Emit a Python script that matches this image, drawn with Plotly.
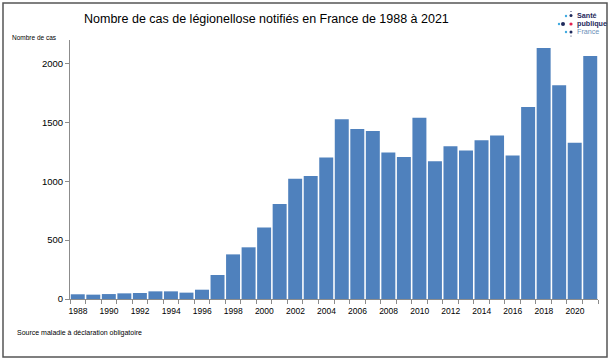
import plotly.graph_objects as go

# ---- data ----
years = list(range(1988, 2022))
cases = [40, 37, 42, 48, 51, 65, 65, 54, 79, 204, 379, 439, 608, 806,
         1021, 1044, 1202, 1527, 1443, 1428, 1244, 1206, 1540, 1170,
         1298, 1262, 1348, 1389, 1218, 1630, 2133, 1816, 1328, 2065]
x_tick_labels = [str(y) for y in range(1988, 2021, 2)]
y_tick_values = [0, 500, 1000, 1500, 2000]
title_text = "Nombre de cas de légionellose notifiés en France de 1988 à 2021"
y_title = "Nombre de cas"
source_text = "Source maladie à déclaration obligatoire"

# ---- geometry helpers (pixel -> paper) ----
W, H = 611, 362
L, R, T, B = 70, 598, 40, 299


def px(x):
    return (x - L) / (R - L)


def py(y):
    return (B - y) / (B - T)


FONT = "Arial, Liberation Sans, sans-serif"
AX = "#8c8c8c"

# boundaries between bars for tick marks; labels on every second bar
bounds = [years[0] - 0.5 + k for k in range(len(years) + 1)]
ticktext = []
for b in bounds:
    lab = str(int(b + 0.5))
    ticktext.append(lab if lab in x_tick_labels else "")

fig = go.Figure(go.Bar(
    x=years, y=cases,
    marker=dict(color="#4F81BD", line=dict(width=0)),
    hoverinfo="x+y",
))

fig.update_layout(
    width=W, height=H,
    margin=dict(l=L, r=W - R, t=T, b=H - B, pad=0),
    paper_bgcolor="white", plot_bgcolor="white",
    bargap=0.1,
    showlegend=False,
    font=dict(family=FONT, color="#000000"),
    xaxis=dict(
        range=[years[0] - 0.5, years[-1] + 0.5],
        tickmode="array", tickvals=bounds, ticktext=ticktext,
        ticklabelshift=8,
        ticks="outside", ticklen=4, tickcolor=AX, tickwidth=1,
        showline=True, linecolor=AX, linewidth=1,
        showgrid=False, zeroline=False,
        tickfont=dict(size=8.5, color="#000000"),
        fixedrange=True,
    ),
    yaxis=dict(
        range=[0, 2200],
        tickmode="array", tickvals=y_tick_values,
        ticks="outside", ticklen=4, tickcolor=AX, tickwidth=1,
        showline=True, linecolor=AX, linewidth=1,
        showgrid=False, zeroline=False,
        tickfont=dict(size=9.5, color="#000000"),
        fixedrange=True,
    ),
)

ann = []
ann.append(dict(text=title_text, x=px(266), y=py(18.5), xref="paper", yref="paper",
                xanchor="center", yanchor="middle", showarrow=False,
                font=dict(size=12.5, family=FONT, color="#000000")))
ann.append(dict(text=y_title, x=px(10), y=py(37), xref="paper", yref="paper",
                xanchor="left", yanchor="middle", showarrow=False,
                font=dict(size=6.5, family=FONT, color="#000000")))
ann.append(dict(text=source_text, x=px(15), y=py(333), xref="paper", yref="paper",
                xanchor="left", yanchor="middle", showarrow=False,
                font=dict(size=7, family=FONT, color="#000000")))
# logo text
for txt, yy, col, bold in [("Santé", 15.5, "#1f2a5c", True),
                           ("publique", 23.5, "#1f2a5c", True),
                           ("France", 31.5, "#6b8fb8", False)]:
    ann.append(dict(text=("<b>%s</b>" % txt) if bold else txt,
                    x=px(575), y=py(yy), xref="paper", yref="paper",
                    xanchor="left", yanchor="middle", showarrow=False,
                    font=dict(size=7.2, family=FONT, color=col)))
fig.update_layout(annotations=ann)

shapes = []
# outer frame
shapes.append(dict(type="rect", xref="paper", yref="paper",
                   x0=px(3), x1=px(607), y0=py(357), y1=py(3),
                   line=dict(color="#555555", width=1.5), fillcolor="rgba(0,0,0,0)",
                   layer="above"))


def dot(cx, cy, r, color):
    shapes.append(dict(type="circle", xref="paper", yref="paper",
                       x0=px(cx - r), x1=px(cx + r), y0=py(cy + r), y1=py(cy - r),
                       line=dict(width=0), fillcolor=color))


# logo dots
dot(566, 16, 1.2, "#3fa9e0")
dot(571, 15.5, 1.5, "#1f2a5c")
dot(559, 24, 1.2, "#3fa9e0")
dot(563, 24, 2.0, "#1f2a5c")
dot(571, 24, 1.6, "#e4204f")
dot(566, 32, 1.2, "#3fa9e0")
dot(571, 32, 1.5, "#1f2a5c")
dot(571, 11.5, 0.6, "#1f2a5c")
dot(571, 36, 0.6, "#1f2a5c")
fig.update_layout(shapes=shapes)

fig.write_html("out.html",
               config={"displayModeBar": False},
               post_script="document.body.style.margin='0px';document.body.style.padding='0px';")
